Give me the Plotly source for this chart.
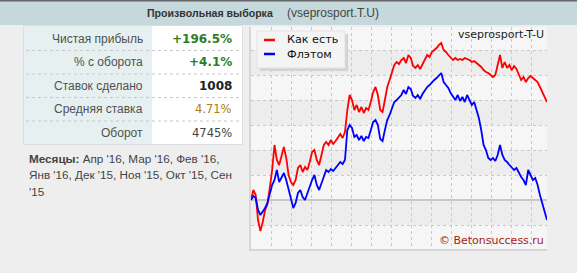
import plotly.graph_objects as go

# ---------------- data ----------------
bets = list(range(0, 1001, 8)) + [1008]

as_is = [0, 20, 10, -40, -62, -44, -20, -8, 24, 60,
         110, 80, 70, 90, 106, 84, 50, 36, 30, 40,
         64, 70, 56, 66, 60, 76, 96, 100, 80, 70,
         90, 110, 116, 110, 120, 112, 118, 126, 132, 124,
         136, 180, 210, 200, 180, 190, 176, 186, 174, 184,
         180, 196, 216, 226, 210, 180, 176, 200, 226, 240,
         256, 270, 276, 272, 280, 284, 274, 290, 284, 268,
         264, 270, 262, 272, 280, 290, 286, 296, 300, 304,
         310, 314, 300, 296, 290, 284, 280, 284, 280, 282,
         280, 284, 282, 280, 276, 278, 274, 270, 266, 260,
         256, 254, 250, 246, 250, 270, 290, 264, 276, 264,
         270, 260, 268, 262, 250, 240, 246, 236, 244, 248,
         244, 240, 236, 226, 216, 206, 196]

flat = [0, 8, 4, -20, -30, -24, -16, -6, 10, 30,
        40, 60, 36, 44, 54, 40, 20, 0, -16, -6,
        14, 20, 6, 0, 14, 24, 40, 50, 30, 20,
        34, 50, 60, 56, 62, 58, 64, 70, 76, 72,
        80, 140, 150, 144, 126, 130, 120, 128, 118, 126,
        124, 140, 156, 160, 150, 122, 118, 140, 160, 170,
        184, 196, 200, 206, 210, 220, 212, 226, 222, 208,
        204, 210, 202, 212, 220, 226, 230, 236, 240, 244,
        250, 254, 236, 230, 224, 214, 206, 200, 210, 198,
        206, 196, 210, 200, 190, 196, 180, 164, 140, 110,
        100, 84, 80, 84, 78, 90, 110, 90, 80, 76,
        70, 64, 60, 64, 54, 46, 40, 30, 60, 50,
        40, 44, 30, 10, -6, -20, -40]

series_names = ["Как есть", "Флэтом"]
table_labels = ["Чистая прибыль", "% с оборота", "Ставок сделано", "Средняя ставка", "Оборот"]
table_values = ["+196.5%", "+4.1%", "1008", "4.71%", "4745%"]
months_lines = ["<b>Месяцы:</b> Апр '16, Мар '16, Фев '16,",
                "Янв '16, Дек '15, Ноя '15, Окт '15, Сен",
                "'15"]
title_main = "Произвольная выборка"
title_sub = "(vseprosport.T.U)"
chart_label = "vseprosport-T-U"
copyright_text = "© Betonsuccess.ru"

# ---------------- layout helpers ----------------
W, H = 577, 273
L, R, T, B = 251, 547, 27, 249


def fx(x):
    return (x - L) / (R - L)


def fy(y):
    return (B - y) / (B - T)


shapes = []
annotations = []


def rect(x0, y0, x1, y1, fill, line=None, lw=0, layer="below"):
    shapes.append(dict(type="rect", xref="paper", yref="paper",
                       x0=fx(x0), x1=fx(x1), y0=fy(y0), y1=fy(y1),
                       fillcolor=fill, layer=layer,
                       line=dict(color=line or fill, width=lw)))


def hline(x0, x1, y, color, width=1, dash="solid", layer="below"):
    shapes.append(dict(type="line", xref="paper", yref="paper",
                       x0=fx(x0), x1=fx(x1), y0=fy(y), y1=fy(y), layer=layer,
                       line=dict(color=color, width=width, dash=dash)))


def text(x, y, s, size=12, color="#333", family="Liberation Sans, Arial",
         xanchor="left", yanchor="middle"):
    annotations.append(dict(x=fx(x), y=fy(y), xref="paper", yref="paper",
                            text=s, showarrow=False, xanchor=xanchor, yanchor=yanchor,
                            align="left",
                            font=dict(size=size, color=color, family=family)))


# header bar
rect(0, 0, W, 25, "#c5d8db")
rect(0, 0, W, 1.5, "#666666")
text(275, 13, "<b>" + title_main + "</b>", size=10.6, color="#333333", xanchor="right")
text(285, 13, title_sub, size=12, color="#444444")

# table
rect(24, 26, 152, 144, "#e6f0f0")
rect(152, 26, 242, 144, "#ffffff")
shapes.append(dict(type="rect", xref="paper", yref="paper",
                   x0=fx(23.5), x1=fx(242.5), y0=fy(25.5), y1=fy(144.5),
                   line=dict(color="#dddddd", width=1), layer="below"))
for yy in [50.5, 74, 97.5, 121]:
    hline(26, 240, yy, "#c8c8c8", 1, "dot")
row_y = [38.5, 62, 85.5, 109, 132.5]
value_styles = [("#2e7d1e", True), ("#2e7d1e", True), ("#222222", True),
                ("#b07a10", False), ("#444444", False)]
for lab, val, yy, (col, bold) in zip(table_labels, table_values, row_y, value_styles):
    text(145, yy, lab, size=12, color="#505050", xanchor="right")
    text(234, yy, ("<b>%s</b>" % val) if bold else val, size=12 if bold else 11.5,
         color=col, family="DejaVu Sans", xanchor="right")

# months
for i, ln in enumerate(months_lines):
    text(27, 158 + i * 16.5, ln, size=11.7, color="#444444")

# plot bands (alternating horizontal stripes)
for lo in [-50, 50, 150, 250]:
    shapes.append(dict(type="rect", xref="paper", yref="y", x0=0, x1=1,
                       y0=lo, y1=lo + 50, fillcolor="#ededed", layer="below",
                       line=dict(width=0)))

# legend (manual, with shadow)
rect(260, 34, 348, 71, "#d3d3d3", layer="above")
rect(257, 31, 345, 68, "#f4f4f4", line="#e2e2e2", lw=1, layer="above")
hline(264, 275, 40, "#ff0000", 2.5, layer="above")
hline(264, 275, 54, "#0000ff", 2.5, layer="above")
text(285, 40, series_names[0], size=11.2, color="#111111", family="DejaVu Sans")
text(285, 54, series_names[1], size=11.2, color="#111111", family="DejaVu Sans")

# chart labels
text(546, 35, chart_label, size=11, color="#222222", family="DejaVu Sans", xanchor="right")
text(546, 240, copyright_text, size=11, color="#a81818", family="DejaVu Sans", xanchor="right")

# ---------------- figure ----------------
fig = go.Figure()
fig.add_trace(go.Scatter(x=bets, y=as_is, mode="lines", name=series_names[0],
                         line=dict(color="#ff0000", width=1.8), hoverinfo="skip"))
fig.add_trace(go.Scatter(x=bets, y=flat, mode="lines", name=series_names[1],
                         line=dict(color="#0000ff", width=1.8), hoverinfo="skip"))

xgrid = 1008 * 20 / (R - L)
fig.update_layout(
    width=W, height=H,
    margin=dict(l=L, r=W - R, t=T, b=H - B, pad=0),
    paper_bgcolor="#eeeeee",
    plot_bgcolor="#f6f6f6",
    showlegend=False,
    shapes=shapes,
    annotations=annotations,
    xaxis=dict(range=[0, 1008], tick0=0, dtick=xgrid, showticklabels=False,
               ticks="", showgrid=True, gridcolor="#c9c9c9", griddash="3px,3px",
               gridwidth=1, zeroline=False, showline=True, linecolor="#d6d6d6",
               linewidth=2, mirror=False, fixedrange=True),
    yaxis=dict(range=[-98, 346], tick0=0, dtick=50, showticklabels=False,
               ticks="", showgrid=True, gridcolor="#c9c9c9", griddash="3px,3px",
               gridwidth=1, zeroline=True, zerolinecolor="#c8c8c8", zerolinewidth=2,
               showline=True, linecolor="#d6d6d6", linewidth=2, fixedrange=True),
)

fig.write_html("out.html")
